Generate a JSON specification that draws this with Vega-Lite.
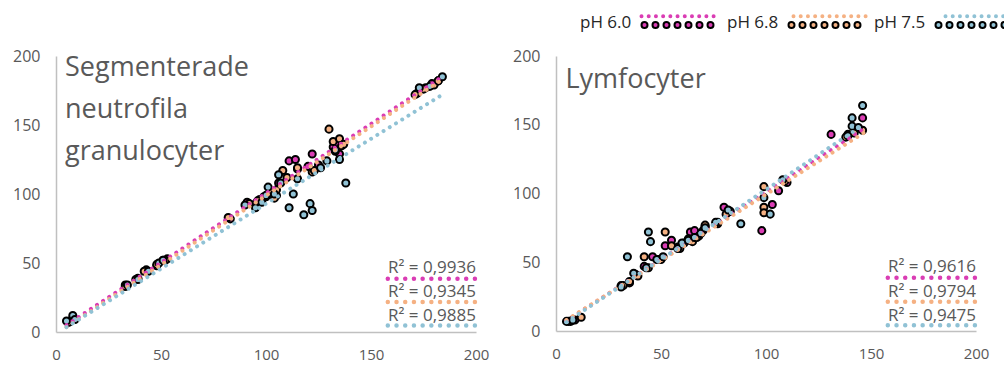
{
  "$schema": "https://vega.github.io/schema/vega-lite/v6.json",
  "background": "white",
  "padding": {"left": 12, "top": 14, "right": -6, "bottom": 0},
  "spacing": 23,
  "datasets": {
    "points": [
      {"panel": "L", "ph": "pH 6.0", "x": 7, "y": 8}, {"panel": "L", "ph": "pH 6.0", "x": 8, "y": 10}, {"panel": "L", "ph": "pH 6.0", "x": 33, "y": 34}, {"panel": "L", "ph": "pH 6.0", "x": 39, "y": 39}, {"panel": "L", "ph": "pH 6.0", "x": 43, "y": 45}, {"panel": "L", "ph": "pH 6.0", "x": 48, "y": 48}, {"panel": "L", "ph": "pH 6.0", "x": 51, "y": 52}, {"panel": "L", "ph": "pH 6.0", "x": 53, "y": 53}, {"panel": "L", "ph": "pH 6.0", "x": 83, "y": 82}, {"panel": "L", "ph": "pH 6.0", "x": 91, "y": 94}, {"panel": "L", "ph": "pH 6.0", "x": 95, "y": 93}, {"panel": "L", "ph": "pH 6.0", "x": 97, "y": 96}, {"panel": "L", "ph": "pH 6.0", "x": 100, "y": 98}, {"panel": "L", "ph": "pH 6.0", "x": 103, "y": 101}, {"panel": "L", "ph": "pH 6.0", "x": 105, "y": 99}, {"panel": "L", "ph": "pH 6.0", "x": 106, "y": 108}, {"panel": "L", "ph": "pH 6.0", "x": 111, "y": 124}, {"panel": "L", "ph": "pH 6.0", "x": 114, "y": 125}, {"panel": "L", "ph": "pH 6.0", "x": 115, "y": 118}, {"panel": "L", "ph": "pH 6.0", "x": 120, "y": 120}, {"panel": "L", "ph": "pH 6.0", "x": 122, "y": 129}, {"panel": "L", "ph": "pH 6.0", "x": 125, "y": 121}, {"panel": "L", "ph": "pH 6.0", "x": 132, "y": 134}, {"panel": "L", "ph": "pH 6.0", "x": 134, "y": 137}, {"panel": "L", "ph": "pH 6.0", "x": 135, "y": 129}, {"panel": "L", "ph": "pH 6.0", "x": 172, "y": 173}, {"panel": "L", "ph": "pH 6.0", "x": 176, "y": 177}, {"panel": "L", "ph": "pH 6.0", "x": 179, "y": 180}, {"panel": "L", "ph": "pH 6.0", "x": 182, "y": 182},
      {"panel": "L", "ph": "pH 6.8", "x": 6, "y": 7}, {"panel": "L", "ph": "pH 6.8", "x": 8, "y": 9}, {"panel": "L", "ph": "pH 6.8", "x": 33, "y": 33}, {"panel": "L", "ph": "pH 6.8", "x": 38, "y": 38}, {"panel": "L", "ph": "pH 6.8", "x": 42, "y": 44}, {"panel": "L", "ph": "pH 6.8", "x": 48, "y": 49}, {"panel": "L", "ph": "pH 6.8", "x": 52, "y": 52}, {"panel": "L", "ph": "pH 6.8", "x": 82, "y": 83}, {"panel": "L", "ph": "pH 6.8", "x": 92, "y": 93}, {"panel": "L", "ph": "pH 6.8", "x": 96, "y": 95}, {"panel": "L", "ph": "pH 6.8", "x": 99, "y": 98}, {"panel": "L", "ph": "pH 6.8", "x": 102, "y": 102}, {"panel": "L", "ph": "pH 6.8", "x": 104, "y": 97}, {"panel": "L", "ph": "pH 6.8", "x": 105, "y": 103}, {"panel": "L", "ph": "pH 6.8", "x": 108, "y": 117}, {"panel": "L", "ph": "pH 6.8", "x": 110, "y": 112}, {"panel": "L", "ph": "pH 6.8", "x": 115, "y": 119}, {"panel": "L", "ph": "pH 6.8", "x": 122, "y": 116}, {"panel": "L", "ph": "pH 6.8", "x": 123, "y": 117}, {"panel": "L", "ph": "pH 6.8", "x": 130, "y": 147}, {"panel": "L", "ph": "pH 6.8", "x": 132, "y": 138}, {"panel": "L", "ph": "pH 6.8", "x": 133, "y": 131}, {"panel": "L", "ph": "pH 6.8", "x": 135, "y": 140}, {"panel": "L", "ph": "pH 6.8", "x": 136, "y": 135}, {"panel": "L", "ph": "pH 6.8", "x": 137, "y": 136}, {"panel": "L", "ph": "pH 6.8", "x": 171, "y": 172}, {"panel": "L", "ph": "pH 6.8", "x": 175, "y": 176}, {"panel": "L", "ph": "pH 6.8", "x": 180, "y": 179}, {"panel": "L", "ph": "pH 6.8", "x": 182, "y": 182},
      {"panel": "L", "ph": "pH 7.5", "x": 5, "y": 8}, {"panel": "L", "ph": "pH 7.5", "x": 8, "y": 12}, {"panel": "L", "ph": "pH 7.5", "x": 9, "y": 9}, {"panel": "L", "ph": "pH 7.5", "x": 34, "y": 34}, {"panel": "L", "ph": "pH 7.5", "x": 39, "y": 38}, {"panel": "L", "ph": "pH 7.5", "x": 44, "y": 44}, {"panel": "L", "ph": "pH 7.5", "x": 49, "y": 50}, {"panel": "L", "ph": "pH 7.5", "x": 51, "y": 52}, {"panel": "L", "ph": "pH 7.5", "x": 90, "y": 92}, {"panel": "L", "ph": "pH 7.5", "x": 95, "y": 90}, {"panel": "L", "ph": "pH 7.5", "x": 98, "y": 94}, {"panel": "L", "ph": "pH 7.5", "x": 100, "y": 99}, {"panel": "L", "ph": "pH 7.5", "x": 101, "y": 105}, {"panel": "L", "ph": "pH 7.5", "x": 104, "y": 100}, {"panel": "L", "ph": "pH 7.5", "x": 106, "y": 114}, {"panel": "L", "ph": "pH 7.5", "x": 107, "y": 108}, {"panel": "L", "ph": "pH 7.5", "x": 111, "y": 90}, {"panel": "L", "ph": "pH 7.5", "x": 113, "y": 100}, {"panel": "L", "ph": "pH 7.5", "x": 115, "y": 111}, {"panel": "L", "ph": "pH 7.5", "x": 118, "y": 85}, {"panel": "L", "ph": "pH 7.5", "x": 121, "y": 93}, {"panel": "L", "ph": "pH 7.5", "x": 122, "y": 88}, {"panel": "L", "ph": "pH 7.5", "x": 126, "y": 119}, {"panel": "L", "ph": "pH 7.5", "x": 129, "y": 124}, {"panel": "L", "ph": "pH 7.5", "x": 133, "y": 132}, {"panel": "L", "ph": "pH 7.5", "x": 135, "y": 125}, {"panel": "L", "ph": "pH 7.5", "x": 138, "y": 108}, {"panel": "L", "ph": "pH 7.5", "x": 173, "y": 177}, {"panel": "L", "ph": "pH 7.5", "x": 178, "y": 178}, {"panel": "L", "ph": "pH 7.5", "x": 184, "y": 185},
      {"panel": "R", "ph": "pH 6.0", "x": 7, "y": 7}, {"panel": "R", "ph": "pH 6.0", "x": 9, "y": 8}, {"panel": "R", "ph": "pH 6.0", "x": 31, "y": 33}, {"panel": "R", "ph": "pH 6.0", "x": 35, "y": 35}, {"panel": "R", "ph": "pH 6.0", "x": 38, "y": 41}, {"panel": "R", "ph": "pH 6.0", "x": 42, "y": 47}, {"panel": "R", "ph": "pH 6.0", "x": 46, "y": 54}, {"panel": "R", "ph": "pH 6.0", "x": 49, "y": 52}, {"panel": "R", "ph": "pH 6.0", "x": 52, "y": 62}, {"panel": "R", "ph": "pH 6.0", "x": 55, "y": 66}, {"panel": "R", "ph": "pH 6.0", "x": 58, "y": 61}, {"panel": "R", "ph": "pH 6.0", "x": 61, "y": 64}, {"panel": "R", "ph": "pH 6.0", "x": 64, "y": 72}, {"panel": "R", "ph": "pH 6.0", "x": 66, "y": 73}, {"panel": "R", "ph": "pH 6.0", "x": 68, "y": 69}, {"panel": "R", "ph": "pH 6.0", "x": 71, "y": 76}, {"panel": "R", "ph": "pH 6.0", "x": 77, "y": 78}, {"panel": "R", "ph": "pH 6.0", "x": 80, "y": 90}, {"panel": "R", "ph": "pH 6.0", "x": 83, "y": 87}, {"panel": "R", "ph": "pH 6.0", "x": 98, "y": 73}, {"panel": "R", "ph": "pH 6.0", "x": 103, "y": 92}, {"panel": "R", "ph": "pH 6.0", "x": 106, "y": 102}, {"panel": "R", "ph": "pH 6.0", "x": 110, "y": 108}, {"panel": "R", "ph": "pH 6.0", "x": 131, "y": 143}, {"panel": "R", "ph": "pH 6.0", "x": 139, "y": 143}, {"panel": "R", "ph": "pH 6.0", "x": 143, "y": 147}, {"panel": "R", "ph": "pH 6.0", "x": 146, "y": 155},
      {"panel": "R", "ph": "pH 6.8", "x": 6, "y": 7}, {"panel": "R", "ph": "pH 6.8", "x": 12, "y": 10}, {"panel": "R", "ph": "pH 6.8", "x": 32, "y": 33}, {"panel": "R", "ph": "pH 6.8", "x": 35, "y": 36}, {"panel": "R", "ph": "pH 6.8", "x": 39, "y": 40}, {"panel": "R", "ph": "pH 6.8", "x": 42, "y": 54}, {"panel": "R", "ph": "pH 6.8", "x": 44, "y": 46}, {"panel": "R", "ph": "pH 6.8", "x": 50, "y": 52}, {"panel": "R", "ph": "pH 6.8", "x": 52, "y": 72}, {"panel": "R", "ph": "pH 6.8", "x": 55, "y": 62}, {"panel": "R", "ph": "pH 6.8", "x": 59, "y": 60}, {"panel": "R", "ph": "pH 6.8", "x": 63, "y": 67}, {"panel": "R", "ph": "pH 6.8", "x": 65, "y": 65}, {"panel": "R", "ph": "pH 6.8", "x": 67, "y": 68}, {"panel": "R", "ph": "pH 6.8", "x": 70, "y": 73}, {"panel": "R", "ph": "pH 6.8", "x": 71, "y": 77}, {"panel": "R", "ph": "pH 6.8", "x": 77, "y": 79}, {"panel": "R", "ph": "pH 6.8", "x": 81, "y": 85}, {"panel": "R", "ph": "pH 6.8", "x": 99, "y": 90}, {"panel": "R", "ph": "pH 6.8", "x": 99, "y": 86}, {"panel": "R", "ph": "pH 6.8", "x": 99, "y": 105}, {"panel": "R", "ph": "pH 6.8", "x": 109, "y": 109}, {"panel": "R", "ph": "pH 6.8", "x": 138, "y": 141}, {"panel": "R", "ph": "pH 6.8", "x": 142, "y": 144}, {"panel": "R", "ph": "pH 6.8", "x": 146, "y": 146},
      {"panel": "R", "ph": "pH 7.5", "x": 5, "y": 7}, {"panel": "R", "ph": "pH 7.5", "x": 8, "y": 8}, {"panel": "R", "ph": "pH 7.5", "x": 31, "y": 32}, {"panel": "R", "ph": "pH 7.5", "x": 34, "y": 54}, {"panel": "R", "ph": "pH 7.5", "x": 37, "y": 42}, {"panel": "R", "ph": "pH 7.5", "x": 43, "y": 46}, {"panel": "R", "ph": "pH 7.5", "x": 44, "y": 72}, {"panel": "R", "ph": "pH 7.5", "x": 45, "y": 65}, {"panel": "R", "ph": "pH 7.5", "x": 48, "y": 52}, {"panel": "R", "ph": "pH 7.5", "x": 51, "y": 54}, {"panel": "R", "ph": "pH 7.5", "x": 58, "y": 60}, {"panel": "R", "ph": "pH 7.5", "x": 60, "y": 64}, {"panel": "R", "ph": "pH 7.5", "x": 63, "y": 66}, {"panel": "R", "ph": "pH 7.5", "x": 66, "y": 68}, {"panel": "R", "ph": "pH 7.5", "x": 69, "y": 71}, {"panel": "R", "ph": "pH 7.5", "x": 71, "y": 75}, {"panel": "R", "ph": "pH 7.5", "x": 76, "y": 79}, {"panel": "R", "ph": "pH 7.5", "x": 82, "y": 88}, {"panel": "R", "ph": "pH 7.5", "x": 88, "y": 78}, {"panel": "R", "ph": "pH 7.5", "x": 99, "y": 97}, {"panel": "R", "ph": "pH 7.5", "x": 102, "y": 85}, {"panel": "R", "ph": "pH 7.5", "x": 108, "y": 110}, {"panel": "R", "ph": "pH 7.5", "x": 139, "y": 142}, {"panel": "R", "ph": "pH 7.5", "x": 141, "y": 155}, {"panel": "R", "ph": "pH 7.5", "x": 141, "y": 149}, {"panel": "R", "ph": "pH 7.5", "x": 144, "y": 148}, {"panel": "R", "ph": "pH 7.5", "x": 146, "y": 164}
    ],
    "trend": [
      {"panel": "L", "ph": "pH 6.0", "x": 5, "y": 5}, {"panel": "L", "ph": "pH 6.0", "x": 183, "y": 184},
      {"panel": "L", "ph": "pH 6.8", "x": 5, "y": 3.5}, {"panel": "L", "ph": "pH 6.8", "x": 183, "y": 182},
      {"panel": "L", "ph": "pH 7.5", "x": 5, "y": 3.5}, {"panel": "L", "ph": "pH 7.5", "x": 184, "y": 172},
      {"panel": "R", "ph": "pH 6.0", "x": 5, "y": 7.5}, {"panel": "R", "ph": "pH 6.0", "x": 147, "y": 147.5},
      {"panel": "R", "ph": "pH 6.8", "x": 5, "y": 8}, {"panel": "R", "ph": "pH 6.8", "x": 147, "y": 144.5},
      {"panel": "R", "ph": "pH 7.5", "x": 5, "y": 6.5}, {"panel": "R", "ph": "pH 7.5", "x": 147, "y": 150.5}
    ],
    "r2": [
      {"panel": "L", "ph": "pH 6.0", "label": "R² = 0,9936"},
      {"panel": "L", "ph": "pH 6.8", "label": "R² = 0,9345"},
      {"panel": "L", "ph": "pH 7.5", "label": "R² = 0,9885"},
      {"panel": "R", "ph": "pH 6.0", "label": "R² = 0,9616"},
      {"panel": "R", "ph": "pH 6.8", "label": "R² = 0,9794"},
      {"panel": "R", "ph": "pH 7.5", "label": "R² = 0,9475"}
    ],
    "titles": [
      {"panel": "L", "title": "Segmenterade\nneutrofila\ngranulocyter"},
      {"panel": "R", "title": "Lymfocyter"}
    ]
  },
  "hconcat": [
    {
      "width": 420, "height": 276,
      "layer": [
        {
          "data": {"name": "points"},
          "transform": [{"filter": "datum.panel === 'L'"}],
          "mark": {"type": "circle", "stroke": "black", "strokeWidth": 2, "size": 50, "opacity": 1},
          "encoding": {
            "x": {"field": "x", "type": "quantitative", "title": null, "scale": {"domain": [0, 200], "nice": false}, "axis": {"values": [0, 50, 100, 150, 200]}},
            "y": {"field": "y", "type": "quantitative", "title": null, "scale": {"domain": [0, 200], "nice": false}, "axis": {"values": [0, 50, 100, 150, 200]}},
            "fill": {"field": "ph", "type": "nominal", "scale": {"range": ["#DA3DB4", "#F5B183", "#90C2D5"]},
              "legend": {"orient": "none", "legendX": 517, "legendY": -42, "direction": "horizontal", "title": null,
                "symbolType": "M20,0.8a1,1 0 1,0 2,0a1,1 0 1,0 -2,0ZM23.667,0.8a1,1 0 1,0 2,0a1,1 0 1,0 -2,0ZM27.333,0.8a1,1 0 1,0 2,0a1,1 0 1,0 -2,0ZM31,0.8a1,1 0 1,0 2,0a1,1 0 1,0 -2,0ZM34.667,0.8a1,1 0 1,0 2,0a1,1 0 1,0 -2,0ZM38.333,0.8a1,1 0 1,0 2,0a1,1 0 1,0 -2,0ZM42,0.8a1,1 0 1,0 2,0a1,1 0 1,0 -2,0Z",
                "symbolSize": 36, "symbolStrokeColor": "black", "symbolStrokeWidth": 2, "symbolOpacity": 1,
                "labelFont": "Open Sans", "labelFontSize": 17, "labelColor": "#262626", "labelOffset": -10, "columnPadding": 2}}
          }
        },
        {
          "data": {"name": "trend"},
          "transform": [{"filter": "datum.panel === 'L'"}],
          "mark": {"type": "line", "strokeDash": [0.01, 7.3], "strokeCap": "round", "strokeWidth": 4},
          "encoding": {
            "x": {"field": "x", "type": "quantitative", "title": null},
            "y": {"field": "y", "type": "quantitative", "title": null},
            "stroke": {"field": "ph", "type": "nominal", "scale": {"range": ["#DA3DB4", "#F5B183", "#90C2D5"]},
              "legend": {"orient": "none", "legendX": 517, "legendY": -42, "direction": "horizontal", "title": null,
                "symbolType": "M20,-2.2L44.3,-2.2", "symbolSize": 36, "symbolStrokeWidth": 4, "symbolDash": [0.01, 7.2],
                "labelExpr": "''", "labelFont": "Open Sans", "labelFontSize": 17, "labelOffset": -10, "columnPadding": 2,
                "encode": {"symbols": {"update": {"strokeCap": {"value": "round"}}}}}}
          }
        },
        {
          "data": {"name": "titles"},
          "transform": [{"filter": "datum.panel === 'L'"}],
          "mark": {"type": "text", "align": "left", "baseline": "alphabetic", "font": "Open Sans", "fontSize": 27, "lineHeight": 42, "lineBreak": "\n", "color": "#595959"},
          "encoding": {"x": {"datum": 4.3, "type": "quantitative", "title": null}, "y": {"datum": 185.6, "type": "quantitative", "title": null}, "text": {"field": "title"}}
        },
        {
          "data": {"name": "r2"},
          "transform": [{"filter": "datum.panel === 'L' && datum.ph === 'pH 6.0'"}],
          "layer": [
            {"mark": {"type": "text", "align": "right", "baseline": "alphabetic", "font": "Open Sans", "fontSize": 17, "color": "#595959"},
             "encoding": {"x": {"datum": 200, "type": "quantitative", "title": null}, "y": {"datum": 42.4, "type": "quantitative", "title": null}, "text": {"field": "label"}}},
            {"mark": {"type": "rule", "strokeDash": [0.01, 8.7], "strokeCap": "round", "strokeWidth": 4.5, "color": "#DA3DB4"},
             "encoding": {"x": {"datum": 158, "type": "quantitative", "title": null}, "x2": {"datum": 199.5}, "y": {"datum": 38.6, "type": "quantitative", "title": null}}}
          ]
        },
        {
          "data": {"name": "r2"},
          "transform": [{"filter": "datum.panel === 'L' && datum.ph === 'pH 6.8'"}],
          "layer": [
            {"mark": {"type": "text", "align": "right", "baseline": "alphabetic", "font": "Open Sans", "fontSize": 17, "color": "#595959"},
             "encoding": {"x": {"datum": 200, "type": "quantitative", "title": null}, "y": {"datum": 25.3, "type": "quantitative", "title": null}, "text": {"field": "label"}}},
            {"mark": {"type": "rule", "strokeDash": [0.01, 8.7], "strokeCap": "round", "strokeWidth": 4.5, "color": "#F5B183"},
             "encoding": {"x": {"datum": 158, "type": "quantitative", "title": null}, "x2": {"datum": 199.5}, "y": {"datum": 21.7, "type": "quantitative", "title": null}}}
          ]
        },
        {
          "data": {"name": "r2"},
          "transform": [{"filter": "datum.panel === 'L' && datum.ph === 'pH 7.5'"}],
          "layer": [
            {"mark": {"type": "text", "align": "right", "baseline": "alphabetic", "font": "Open Sans", "fontSize": 17, "color": "#595959"},
             "encoding": {"x": {"datum": 200, "type": "quantitative", "title": null}, "y": {"datum": 8.0, "type": "quantitative", "title": null}, "text": {"field": "label"}}},
            {"mark": {"type": "rule", "strokeDash": [0.01, 8.7], "strokeCap": "round", "strokeWidth": 4.5, "color": "#90C2D5"},
             "encoding": {"x": {"datum": 158, "type": "quantitative", "title": null}, "x2": {"datum": 199.5}, "y": {"datum": 4.8, "type": "quantitative", "title": null}}}
          ]
        }
      ]
    },
    {
      "width": 420, "height": 275,
      "layer": [
        {
          "data": {"name": "points"},
          "transform": [{"filter": "datum.panel === 'R'"}],
          "mark": {"type": "circle", "stroke": "black", "strokeWidth": 2, "size": 50, "opacity": 1},
          "encoding": {
            "x": {"field": "x", "type": "quantitative", "title": null, "scale": {"domain": [0, 200], "nice": false}, "axis": {"values": [0, 50, 100, 150, 200]}},
            "y": {"field": "y", "type": "quantitative", "title": null, "scale": {"domain": [0, 200], "nice": false}, "axis": {"values": [0, 50, 100, 150, 200]}},
            "fill": {"field": "ph", "type": "nominal", "scale": {"range": ["#DA3DB4", "#F5B183", "#90C2D5"]},
              "legend": {"orient": "none", "legendX": 517, "legendY": -42, "direction": "horizontal", "title": null,
                "symbolType": "M20,0.8a1,1 0 1,0 2,0a1,1 0 1,0 -2,0ZM23.667,0.8a1,1 0 1,0 2,0a1,1 0 1,0 -2,0ZM27.333,0.8a1,1 0 1,0 2,0a1,1 0 1,0 -2,0ZM31,0.8a1,1 0 1,0 2,0a1,1 0 1,0 -2,0ZM34.667,0.8a1,1 0 1,0 2,0a1,1 0 1,0 -2,0ZM38.333,0.8a1,1 0 1,0 2,0a1,1 0 1,0 -2,0ZM42,0.8a1,1 0 1,0 2,0a1,1 0 1,0 -2,0Z",
                "symbolSize": 36, "symbolStrokeColor": "black", "symbolStrokeWidth": 2, "symbolOpacity": 1,
                "labelFont": "Open Sans", "labelFontSize": 17, "labelColor": "#262626", "labelOffset": -10, "columnPadding": 2}}
          }
        },
        {
          "data": {"name": "trend"},
          "transform": [{"filter": "datum.panel === 'R'"}],
          "mark": {"type": "line", "strokeDash": [0.01, 7.3], "strokeCap": "round", "strokeWidth": 4},
          "encoding": {
            "x": {"field": "x", "type": "quantitative", "title": null},
            "y": {"field": "y", "type": "quantitative", "title": null},
            "stroke": {"field": "ph", "type": "nominal", "scale": {"range": ["#DA3DB4", "#F5B183", "#90C2D5"]},
              "legend": {"orient": "none", "legendX": 517, "legendY": -42, "direction": "horizontal", "title": null,
                "symbolType": "M20,-2.2L44.3,-2.2", "symbolSize": 36, "symbolStrokeWidth": 4, "symbolDash": [0.01, 7.2],
                "labelExpr": "''", "labelFont": "Open Sans", "labelFontSize": 17, "labelOffset": -10, "columnPadding": 2,
                "encode": {"symbols": {"update": {"strokeCap": {"value": "round"}}}}}}
          }
        },
        {
          "data": {"name": "titles"},
          "transform": [{"filter": "datum.panel === 'R'"}],
          "mark": {"type": "text", "align": "left", "baseline": "alphabetic", "font": "Open Sans", "fontSize": 27, "lineHeight": 42, "lineBreak": "\n", "color": "#595959"},
          "encoding": {"x": {"datum": 4.5, "type": "quantitative", "title": null}, "y": {"datum": 176.7, "type": "quantitative", "title": null}, "text": {"field": "title"}}
        },
        {
          "data": {"name": "r2"},
          "transform": [{"filter": "datum.panel === 'R' && datum.ph === 'pH 6.0'"}],
          "layer": [
            {"mark": {"type": "text", "align": "right", "baseline": "alphabetic", "font": "Open Sans", "fontSize": 17, "color": "#595959"},
             "encoding": {"x": {"datum": 200, "type": "quantitative", "title": null}, "y": {"datum": 42.9, "type": "quantitative", "title": null}, "text": {"field": "label"}}},
            {"mark": {"type": "rule", "strokeDash": [0.01, 8.7], "strokeCap": "round", "strokeWidth": 4.5, "color": "#DA3DB4"},
             "encoding": {"x": {"datum": 158, "type": "quantitative", "title": null}, "x2": {"datum": 199.5}, "y": {"datum": 38.7, "type": "quantitative", "title": null}}}
          ]
        },
        {
          "data": {"name": "r2"},
          "transform": [{"filter": "datum.panel === 'R' && datum.ph === 'pH 6.8'"}],
          "layer": [
            {"mark": {"type": "text", "align": "right", "baseline": "alphabetic", "font": "Open Sans", "fontSize": 17, "color": "#595959"},
             "encoding": {"x": {"datum": 200, "type": "quantitative", "title": null}, "y": {"datum": 25.0, "type": "quantitative", "title": null}, "text": {"field": "label"}}},
            {"mark": {"type": "rule", "strokeDash": [0.01, 8.7], "strokeCap": "round", "strokeWidth": 4.5, "color": "#F5B183"},
             "encoding": {"x": {"datum": 158, "type": "quantitative", "title": null}, "x2": {"datum": 199.5}, "y": {"datum": 21.3, "type": "quantitative", "title": null}}}
          ]
        },
        {
          "data": {"name": "r2"},
          "transform": [{"filter": "datum.panel === 'R' && datum.ph === 'pH 7.5'"}],
          "layer": [
            {"mark": {"type": "text", "align": "right", "baseline": "alphabetic", "font": "Open Sans", "fontSize": 17, "color": "#595959"},
             "encoding": {"x": {"datum": 200, "type": "quantitative", "title": null}, "y": {"datum": 7.3, "type": "quantitative", "title": null}, "text": {"field": "label"}}},
            {"mark": {"type": "rule", "strokeDash": [0.01, 8.7], "strokeCap": "round", "strokeWidth": 4.5, "color": "#90C2D5"},
             "encoding": {"x": {"datum": 158, "type": "quantitative", "title": null}, "x2": {"datum": 199.5}, "y": {"datum": 4.2, "type": "quantitative", "title": null}}}
          ]
        }
      ]
    }
  ],
  "config": {
    "view": {"stroke": null},
    "font": "Open Sans",
    "axis": {"domainColor": "#C0C0C0", "domainWidth": 1.5, "ticks": false, "grid": false, "labelFont": "Open Sans", "labelFontSize": 16, "labelColor": "#595959", "labelFlush": false, "labelOverlap": false},
    "axisX": {"labelPadding": 15, "labelFontSize": 15},
    "axisY": {"labelPadding": 16}
  }
}
